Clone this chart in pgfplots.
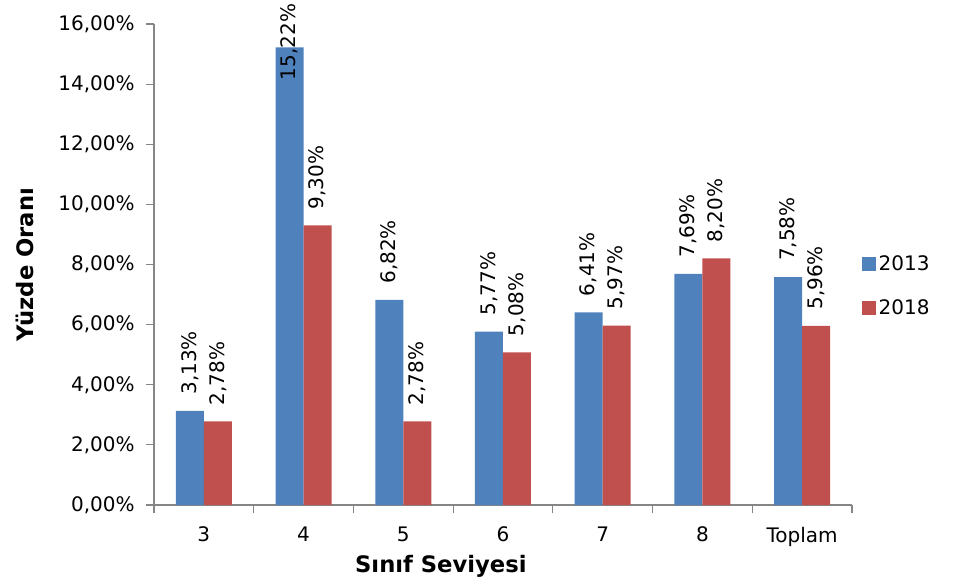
\documentclass[border=0pt]{standalone}
\usepackage{pgfplots}
\usepackage{pgfplotstable}
\pgfplotsset{compat=1.18}
\usepackage{fontspec}
\setmainfont{DejaVu Sans}
\definecolor{cblue}{HTML}{4F81BD}
\definecolor{cred}{HTML}{C0504D}
\definecolor{axgray}{HTML}{868686}

\pgfplotstableread{
x y lab off
0 3.13 3,13 12
1 15.22 15,22 -24.75
2 6.82 6,82 12
3 5.77 5,77 12
4 6.41 6,41 12
5 7.69 7,69 12
6 7.58 7,58 12
}\dataA

\pgfplotstableread{
x y lab off
0 2.78 2,78 12
1 9.30 9,30 12
2 2.78 2,78 12
3 5.08 5,08 12
4 5.97 5,97 12
5 8.20 8,20 12
6 5.96 5,96 12
}\dataB

\begin{document}
\begin{tikzpicture}
\useasboundingbox (-115.5pt,-61.5pt) rectangle (618pt,378.75pt);
\begin{axis}[
  scale only axis,
  width=523.5pt, height=360.75pt,
  ybar=0pt, bar width=21pt,
  xmin=-0.5, xmax=6.5, ymin=0, ymax=16,
  enlargelimits=false,
  clip=false,
  axis x line*=bottom, axis y line*=left,
  axis line style={axgray, line width=0.8pt},
  tick align=outside,
  xtick={0,...,6},
  xticklabels={3,4,5,6,7,8,Toplam},
  minor xtick={-0.5,0.5,...,6.5},
  major x tick style={draw=none},
  minor x tick style={axgray, line width=0.8pt},
  minor tick length=6pt,
  major tick length=6pt,
  ytick={0,2,...,16},
  yticklabels={{0,00\%},{2,00\%},{4,00\%},{6,00\%},{8,00\%},{10,00\%},{12,00\%},{14,00\%},{16,00\%}},
  ytick style={axgray, line width=0.8pt},
  ticklabel style={font=\fontsize{15}{18}\selectfont},
  yticklabel style={xshift=-5pt},
  xticklabel style={yshift=-7pt},
  xlabel={Sınıf Seviyesi},
  ylabel={Yüzde Oranı},
  label style={font=\fontsize{17}{20}\selectfont\bfseries},
  xlabel style={at={(axis description cs:0.411,-0.127)}, anchor=center},
  ylabel style={at={(axis description cs:-0.185,0.5)}, anchor=center},
  point meta=explicit symbolic,
  nodes near coords={\pgfplotspointmeta\%},
  visualization depends on={\thisrow{off}\as\off},
  every node near coord/.append style={yshift=\off pt, rotate=90, anchor=west, inner sep=0pt, font=\fontsize{15}{18}\selectfont, text=black},
  legend style={draw=none, at={(1.014,0.455)}, anchor=west, font=\fontsize{15}{18}\selectfont, row sep=16pt, inner sep=0pt},
  legend cell align=left,
  legend image code/.code={\fill[#1] (0pt,-5.25pt) rectangle (10.5pt,5.25pt);},
]
\addplot[fill=cblue, draw=none] table[x=x, y=y, meta=lab] {\dataA};
\addplot[fill=cred, draw=none] table[x=x, y=y, meta=lab] {\dataB};
\legend{2013,2018}
\end{axis}
\end{tikzpicture}
\end{document}
